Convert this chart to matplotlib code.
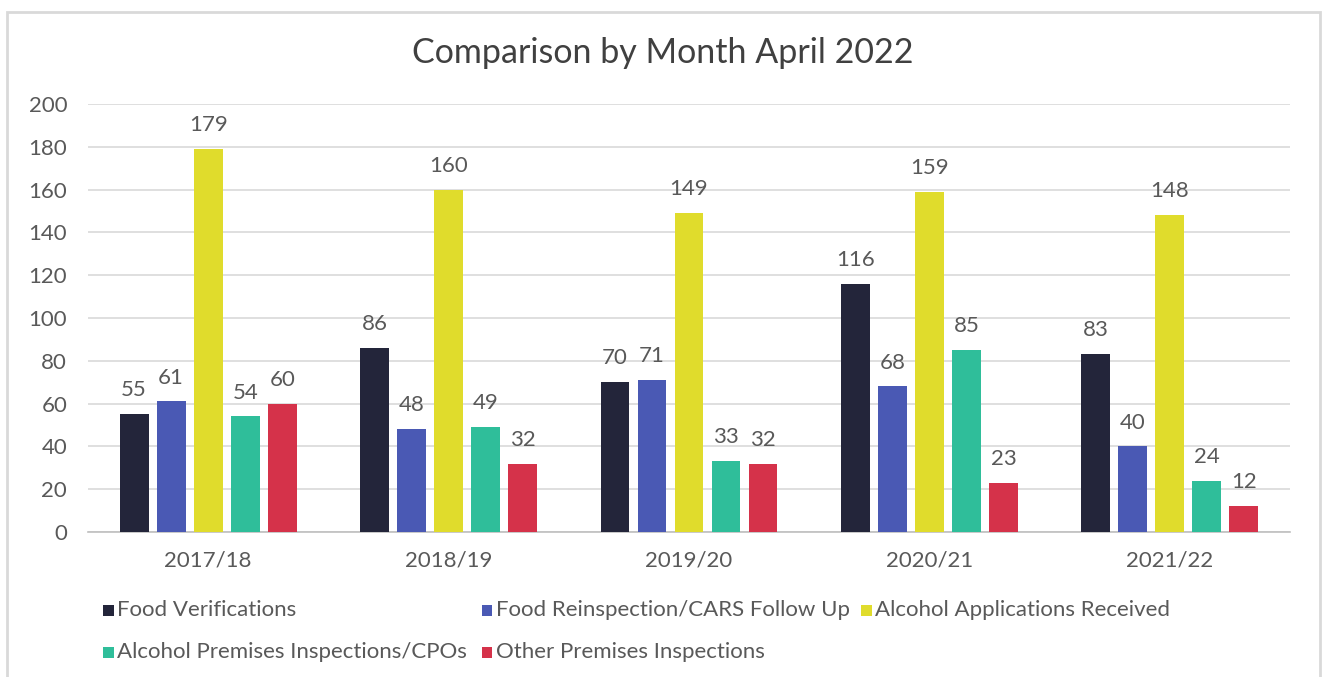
import matplotlib
matplotlib.use("Agg")
import matplotlib.pyplot as plt
from matplotlib.patches import Rectangle
import numpy as np

categories = ["2017/18", "2018/19", "2019/20", "2020/21", "2021/22"]
series_names = ["Food Verifications", "Food Reinspection/CARS Follow Up",
                "Alcohol Applications Received", "Alcohol Premises Inspections/CPOs",
                "Other Premises Inspections"]
food_verifications = [55, 86, 70, 116, 83]
food_reinspection = [61, 48, 71, 68, 40]
alcohol_applications = [179, 160, 149, 159, 148]
alcohol_premises = [54, 49, 33, 85, 24]
other_premises = [60, 32, 32, 23, 12]
colors = ["#23253a", "#4a59b4", "#e0dc2c", "#2fbe9a", "#d5324a"]
yticks = [0, 20, 40, 60, 80, 100, 120, 140, 160, 180, 200]

series = [food_verifications, food_reinspection, alcohol_applications,
          alcohol_premises, other_premises]

plt.rcParams['font.family'] = ['Lato', 'DejaVu Sans']
txt = "#595959"

W, H = 1325, 677
fig = plt.figure(figsize=(W/100, H/100), dpi=100)
fig.patch.set_facecolor("white")
fig.patches.append(Rectangle((7/W, -0.01), (1320-7)/W, 1 - 12/H + 0.01,
                             transform=fig.transFigure, fill=False,
                             edgecolor="#d9d9d9", linewidth=2))

ax = fig.add_axes([88/W, 1-532/H, (1290-88)/W, (532-104)/H])
x = np.arange(len(categories))
pitch, width = 0.154, 0.12
for j, (vals, c) in enumerate(zip(series, colors)):
    pos = x + (j-2)*pitch
    ax.bar(pos, vals, width=width, color=c, zorder=3)
    for p, v in zip(pos, vals):
        ax.annotate(str(v), (p, v), xytext=(0, 10), textcoords="offset points",
                    ha="center", va="bottom", fontsize=16, color=txt)

ax.set_xlim(-0.5, len(categories)-0.5)
ax.set_ylim(0, 200)
ax.set_yticks(yticks)
ax.set_yticklabels([str(t) for t in yticks], fontsize=16, color=txt)
ax.set_xticks(x)
ax.set_xticklabels(categories, fontsize=16, color=txt)
ax.tick_params(axis="both", length=0)
ax.tick_params(axis="y", pad=15)
ax.tick_params(axis="x", pad=13)
ax.grid(axis="y", color="#d9d9d9", linewidth=1.2, zorder=0)
for s in ["top", "right", "left"]:
    ax.spines[s].set_visible(False)
ax.spines["bottom"].set_color("#bfbfbf")
ax.spines["bottom"].set_linewidth(1.2)

fig.text(663/W, 1-53/H, "Comparison by Month April 2022", ha="center", va="center",
         fontsize=24.5, color="#404040")

# legend (flow layout like the source)
entries = [(108, 610), (487, 610), (866, 610), (108, 652), (487, 652)]
sq = 11
for (px, py), name, c in zip(entries, series_names, colors):
    fig.patches.append(Rectangle(((px - sq/2)/W, 1-(py + sq/2)/H), sq/W, sq/H,
                                 transform=fig.transFigure, facecolor=c, edgecolor="none"))
    fig.text((px + 9)/W, 1-py/H, name, ha="left", va="center", fontsize=16, color=txt)

fig.savefig("out.png", dpi=100, facecolor="white")
